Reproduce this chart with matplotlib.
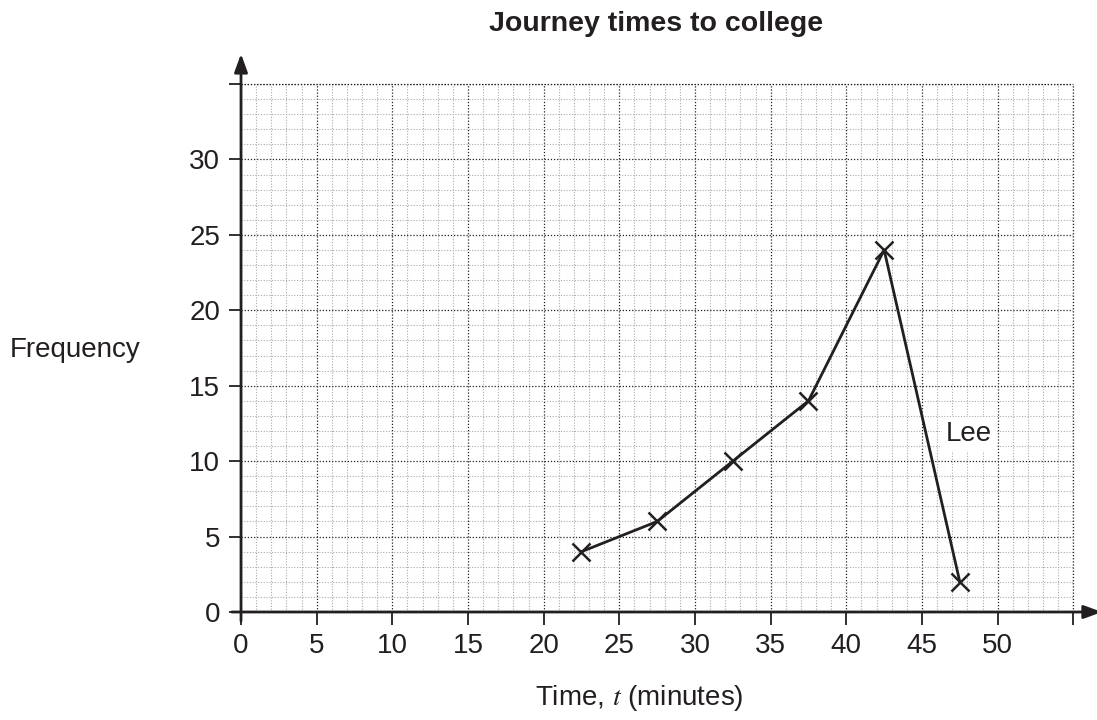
import matplotlib.pyplot as plt
import numpy as np

plt.rcParams['font.family'] = ['Liberation Sans', 'DejaVu Sans']
plt.rcParams['mathtext.fontset'] = 'stix'

# journey time midpoints and frequencies for Lee
times = [22.5, 27.5, 32.5, 37.5, 42.5, 47.5]
freqs = [4, 6, 10, 14, 24, 2]

x_ticks = list(range(0, 56, 5))
x_labels = [str(v) for v in range(0, 51, 5)] + [""]
y_ticks = list(range(0, 36, 5))
y_labels = [str(v) for v in range(0, 31, 5)] + [""]

ink = "#231f20"

fig = plt.figure(figsize=(10.97, 7.2), dpi=100)
ax = fig.add_axes([0.2197, 0.15, 0.7587, 0.7333])
ax.set_xlim(0, 55)
ax.set_ylim(0, 35)

# minor grid (every 1) and major grid (every 5)
ax.set_xticks(np.arange(0, 56, 1), minor=True)
ax.set_yticks(np.arange(0, 36, 1), minor=True)
ax.grid(which="minor", color="#aaaaaa", linestyle=(0, (1, 1.5)), linewidth=0.8)
ax.grid(which="major", color="#222222", linestyle=(0, (1, 1.5)), linewidth=0.9)
ax.tick_params(which="minor", length=0)
ax.set_axisbelow(True)

ax.set_xticks(x_ticks)
ax.set_xticklabels(x_labels)
ax.set_yticks(y_ticks)
ax.set_yticklabels(y_labels)
ax.tick_params(which="major", direction="out", length=9, width=1.3,
               color=ink, labelsize=20, labelcolor=ink, pad=6)

for s in ax.spines.values():
    s.set_visible(False)

# outer border of the grid
ax.axvline(55, color="#222222", linestyle=(0, (1, 1.5)), linewidth=0.9, clip_on=False)
ax.axhline(35, color="#222222", linestyle=(0, (1, 1.5)), linewidth=0.9, clip_on=False)

# axes with arrows
ax.annotate("", xy=(56.9, 0), xytext=(-0.6, 0), annotation_clip=False,
            arrowprops=dict(arrowstyle="-|>,head_length=1.1,head_width=0.4",
                            color=ink, lw=2, shrinkA=0, shrinkB=0))
ax.annotate("", xy=(0, 37), xytext=(0, -0.6), annotation_clip=False,
            arrowprops=dict(arrowstyle="-|>,head_length=1.1,head_width=0.4",
                            color=ink, lw=2, shrinkA=0, shrinkB=0))

ax.plot(times, freqs, color=ink, linewidth=2, marker="x",
        markersize=13, markeredgewidth=1.8, zorder=5)

ax.text(46.6, 11.8, "Lee", fontsize=20, color=ink, va="center", ha="left",
        bbox=dict(facecolor="white", edgecolor="none", pad=3), zorder=6)

fig.text(0.598, 0.967, "Journey times to college", fontsize=20.5, fontweight="bold",
         ha="center", va="center", color=ink)
fig.text(0.009, 0.514, "Frequency", fontsize=20, ha="left", va="center", color=ink)
fig.text(0.583, 0.03, "Time, $t$ (minutes)", fontsize=20, ha="center", va="center",
         color=ink)

fig.savefig("out.png", dpi=100)
